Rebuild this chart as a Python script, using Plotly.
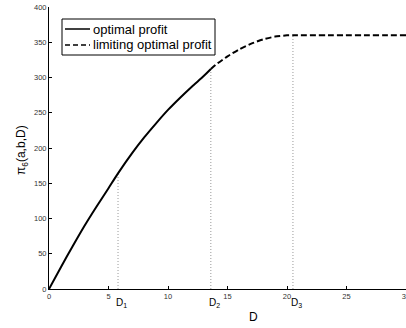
import plotly.graph_objects as go

# Optimal profit (solid)
d_opt = [0, 1, 2, 3, 4, 5, 5.8, 7, 8, 9, 10, 11, 12, 13, 13.6]
p_opt = [0, 31, 61, 90, 117, 143, 164, 193, 215, 235, 254, 271, 287, 302, 312]

# Limiting optimal profit (dashed)
d_lim = [13.6, 14, 15, 16, 17, 18, 19, 20, 20.5, 30]
p_lim = [312, 318, 330, 340, 348, 354, 358, 359.8, 360, 360]

# Threshold markers
d_marks = [5.8, 13.6, 20.5]
p_marks = [164, 312, 360]
mark_labels = ["D<sub>1</sub>", "D<sub>2</sub>", "D<sub>3</sub>"]

series_names = ["optimal profit", "limiting optimal profit"]

x_ticks = [0, 5, 10, 15, 20, 25, 30]
y_ticks = [0, 50, 100, 150, 200, 250, 300, 350, 400]

FONT = "Liberation Sans, Arial, sans-serif"
W, H = 406, 328
L, R, T, B = 49, 0, 7, 39
PW, PH = W - L - R, H - T - B


def px(x):
    return (x - L) / PW


def py(y):
    return (H - B - y) / PH


fig = go.Figure()

for dx, pv in zip(d_marks, p_marks):
    fig.add_trace(go.Scatter(x=[dx, dx], y=[0, pv], mode="lines",
                             line=dict(color="#999999", width=1, dash="1px,2px"),
                             showlegend=False, hoverinfo="skip"))

fig.add_trace(go.Scatter(x=d_opt, y=p_opt, mode="lines", name=series_names[0],
                         line=dict(color="black", width=2, shape="spline", smoothing=0.6),
                         showlegend=False))
fig.add_trace(go.Scatter(x=d_lim, y=p_lim, mode="lines", name=series_names[1],
                         line=dict(color="black", width=2, dash="6px,3px", shape="spline", smoothing=0.6),
                         showlegend=False))

annotations = []
for dx, lab in zip(d_marks, mark_labels):
    annotations.append(dict(x=dx, y=0, xref="x", yref="paper", text=lab, showarrow=False,
                            xanchor="left", yanchor="top", xshift=-4, yshift=-6,
                            font=dict(family=FONT, size=10, color="black")))
annotations.append(dict(x=px(253), y=0, xref="paper", yref="paper", text="D",
                        showarrow=False, xanchor="center", yanchor="middle", yshift=-28,
                        font=dict(family=FONT, size=12, color="black")))
annotations.append(dict(x=px(22), y=py(150), xref="paper", yref="paper",
                        text="π<sub>6</sub>(a,b,D)", showarrow=False, textangle=-90,
                        xanchor="center", yanchor="middle",
                        font=dict(family=FONT, size=12, color="black")))

# legend drawn as a box with samples and labels
shapes = [dict(type="rect", xref="paper", yref="paper", x0=px(62), x1=px(215),
               y0=py(55), y1=py(19), line=dict(color="black", width=1),
               fillcolor="white", layer="above")]
row_y = [29, 45]
dashes = ["solid", "5px,3px"]
for ry, ds, name in zip(row_y, dashes, series_names):
    shapes.append(dict(type="line", xref="paper", yref="paper", x0=px(65), x1=px(90),
                       y0=py(ry), y1=py(ry), line=dict(color="black", width=1.5, dash=ds),
                       layer="above"))
    annotations.append(dict(x=px(91), y=py(ry), xref="paper", yref="paper", text=name,
                            showarrow=False, xanchor="left", yanchor="middle",
                            font=dict(family=FONT, size=13, color="black")))

fig.update_layout(
    width=W, height=H,
    margin=dict(l=L, r=R, t=T, b=B, autoexpand=False),
    paper_bgcolor="white", plot_bgcolor="white",
    font=dict(family=FONT, color="#222"),
    showlegend=False,
    annotations=annotations,
    shapes=shapes,
)
fig.update_xaxes(range=[0, 30], tickvals=x_ticks, ticks="inside", ticklen=3,
                 tickcolor="black", showline=True, linecolor="black", linewidth=1,
                 showgrid=False, zeroline=False, automargin=False,
                 ticklabeloverflow="allow",
                 tickfont=dict(size=7.5, color="#333"))
fig.update_yaxes(range=[0, 400], tickvals=y_ticks, ticks="inside", ticklen=3,
                 tickcolor="black", showline=True, linecolor="black", linewidth=1,
                 showgrid=False, zeroline=False, automargin=False,
                 ticklabeloverflow="allow",
                 tickfont=dict(size=7.5, color="#333"))

fig.write_html("out.html", config={"displayModeBar": False},
               post_script="document.body.style.margin='0';")
